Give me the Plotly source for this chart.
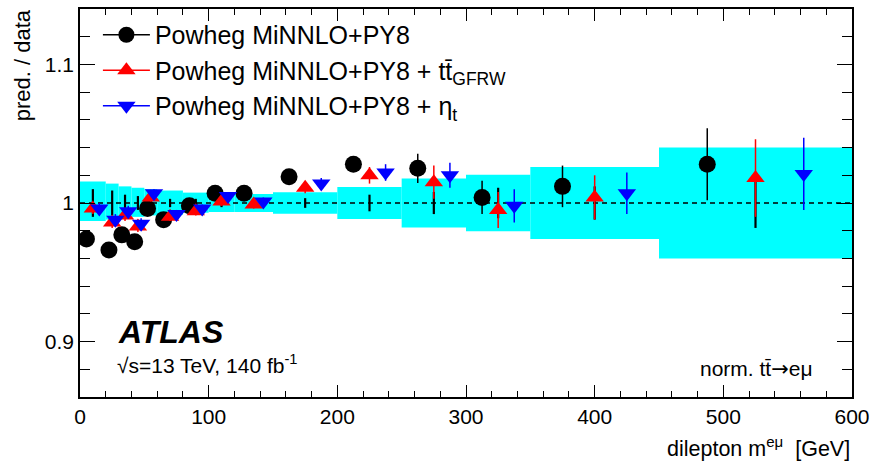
import plotly.graph_objects as go

# ---------------- data ----------------
bin_edges = [0, 20, 30, 40, 50, 60, 80, 100, 120, 150, 200, 250, 300, 350, 450, 600]

# Powheg MiNNLO+PY8 (black circles)
powheg = [0.974, 0.966, 0.977, 0.972, 0.996, 0.988, 0.998, 1.007, 1.007, 1.019, 1.028, 1.025, 1.004, 1.012, 1.028]
powheg_err = [0.004, 0.004, 0.004, 0.004, 0.003, 0.003, 0.003, 0.003, 0.003, 0.004, 0.005, 0.0105, 0.012, 0.015, 0.026]

# Powheg MiNNLO+PY8 + ttbar_GFRW (red up triangles)
gfrw = [0.996, 0.986, 0.991, 0.983, 1.004, 0.990, 0.994, 1.001, 0.999, 1.011, 1.020, 1.015, 0.995, 1.004, 1.018]
gfrw_err = [0.004, 0.004, 0.004, 0.004, 0.003, 0.003, 0.003, 0.003, 0.003, 0.004, 0.006, 0.012, 0.013, 0.016, 0.028]

# Powheg MiNNLO+PY8 + eta_t (blue down triangles)
eta = [0.996, 0.988, 0.994, 0.985, 1.007, 0.992, 0.996, 1.005, 1.001, 1.014, 1.022, 1.020, 0.998, 1.007, 1.021]
eta_err = [0.004, 0.004, 0.004, 0.004, 0.003, 0.003, 0.003, 0.003, 0.003, 0.004, 0.006, 0.009, 0.012, 0.015, 0.026]

# data (ratio = 1) with statistical uncertainty
data_ratio = [1.0] * 15
data_stat = [0.010, 0.009, 0.006, 0.005, 0.004, 0.003, 0.003, 0.003, 0.003, 0.0035, 0.006, 0.008, 0.011, 0.012, 0.018]

# total uncertainty band
unc_up = [0.0155, 0.014, 0.012, 0.011, 0.010, 0.009, 0.0075, 0.007, 0.0065, 0.0078, 0.0115, 0.0177, 0.0204, 0.026, 0.040]
unc_down = [0.013, 0.012, 0.011, 0.010, 0.009, 0.0085, 0.007, 0.0065, 0.0065, 0.0078, 0.0115, 0.0177, 0.0204, 0.026, 0.040]

y_tick_vals = [0.9, 1.0, 1.1]
y_tick_text = ["0.9", "1", "1.1"]
x_tick_vals = [0, 100, 200, 300, 400, 500, 600]
x_tick_text = ["0", "100", "200", "300", "400", "500", "600"]

series_names = [
    "Powheg MiNNLO+PY8",
    "Powheg MiNNLO+PY8 + tt\u0304<sub>GFRW</sub>",
    "Powheg MiNNLO+PY8 + \u03b7<sub>t</sub>",
]

# ---------------- derived positions ----------------
lo = bin_edges[:-1]
hi = bin_edges[1:]
widths = [h - l for l, h in zip(lo, hi)]
centers = [(l + h) / 2 for l, h in zip(lo, hi)]
x_black = [l + 0.25 * w for l, w in zip(lo, widths)]
x_red = [l + 0.50 * w for l, w in zip(lo, widths)]
x_blue = [l + 0.75 * w for l, w in zip(lo, widths)]

FONT = "Liberation Sans, Arial, Helvetica, sans-serif"

fig = go.Figure()

# uncertainty band
fig.add_trace(go.Bar(
    x=centers, y=[u + d for u, d in zip(unc_up, unc_down)],
    base=[1 - d for d in unc_down], width=widths,
    marker=dict(color="#00FFFF", line=dict(width=0)),
    showlegend=False, hoverinfo="skip",
))

# dashed unity line
fig.add_trace(go.Scatter(
    x=[bin_edges[0], bin_edges[-1]], y=[1, 1], mode="lines",
    line=dict(color="black", width=1.3, dash="5px,4px"),
    showlegend=False, hoverinfo="skip",
))

# data stat errors
fig.add_trace(go.Scatter(
    x=centers, y=data_ratio, mode="markers",
    marker=dict(size=1, color="black"),
    error_y=dict(type="data", array=data_stat, color="black", thickness=2.2, width=0),
    showlegend=False,
))

styles = [
    (x_black, powheg, powheg_err, "black", "circle", 17),
    (x_red, gfrw, gfrw_err, "#FF0000", "triangle-up", 16),
    (x_blue, eta, eta_err, "#0000FF", "triangle-down", 16),
]
for (xs, ys, es, col, sym, sz), name in zip(styles, series_names):
    fig.add_trace(go.Scatter(
        x=xs, y=ys, mode="markers",
        marker=dict(color=col, symbol=sym, size=sz, line=dict(width=0)),
        error_y=dict(type="data", array=es, color=col, thickness=1.5, width=0),
        showlegend=False, name=name,
    ))
# legend entries (marker with line, as in the original)
for (xs, ys, es, col, sym, sz), name in zip(styles, series_names):
    fig.add_trace(go.Scatter(
        x=[None], y=[None], mode="lines+markers",
        marker=dict(color=col, symbol=sym, size=sz, line=dict(width=0)),
        line=dict(color=col, width=1.5),
        name=name, showlegend=True,
    ))

axis_common = dict(
    showline=True, linecolor="black", linewidth=1.5, mirror="allticks",
    ticks="inside", tickcolor="black", tickwidth=1.3,
    showgrid=False, zeroline=False,
    tickfont=dict(family=FONT, size=21, color="black"),
)

fig.update_xaxes(
    range=[0, 600], tickmode="array", tickvals=x_tick_vals, ticktext=x_tick_text,
    ticklen=12,
    minor=dict(tickmode="linear", tick0=0, dtick=20, ticks="inside", ticklen=6, tickwidth=1.3, tickcolor="black"),
    **axis_common,
)
fig.update_yaxes(
    range=[0.86, 1.14], tickmode="array", tickvals=y_tick_vals, ticktext=y_tick_text,
    ticklen=15,
    minor=dict(tickmode="linear", tick0=0, dtick=0.02, ticks="inside", ticklen=10, tickwidth=1.3, tickcolor="black"),
    **axis_common,
)

W, H = 877, 465
ML, MR, MT, MB = 80, 21, 7, 68
PW, PH = W - ML - MR, H - MT - MB


def px(xp):
    return (xp - ML) / PW


def py(yp):
    return 1 - (yp - MT) / PH


annotations = [
    dict(text="pred. / data", x=px(22), y=py(5), xanchor="center", yanchor="top",
         textangle=-90, font=dict(family=FONT, size=22, color="black")),
    dict(text="dilepton m<sup>e\u03bc</sup>  [GeV]", x=px(856), y=py(463), xanchor="right", yanchor="bottom",
         font=dict(family=FONT, size=21.5, color="black")),
    dict(text="<b><i>ATLAS</i></b>", x=px(116), y=py(332), xanchor="left", yanchor="middle",
         font=dict(family=FONT, size=32, color="black")),
    dict(text="\u221as=13 TeV, 140 fb<sup>-1</sup>", x=px(115), y=py(364), xanchor="left", yanchor="middle",
         font=dict(family=FONT, size=21, color="black")),
    dict(text="norm. tt\u0304<span style='font-family:DejaVu Sans'>\u2192</span>e\u03bc",
         x=px(819), y=py(369), xanchor="right", yanchor="middle",
         font=dict(family=FONT, size=21, color="black")),
]
for a in annotations:
    a.update(xref="paper", yref="paper", showarrow=False)

fig.update_layout(
    width=W, height=H,
    margin=dict(l=ML, r=MR, t=MT, b=MB, pad=0),
    paper_bgcolor="white", plot_bgcolor="white",
    font=dict(family=FONT, color="black"),
    annotations=annotations,
    legend=dict(
        x=px(98), y=py(10), xanchor="left", yanchor="top",
        bgcolor="rgba(0,0,0,0)", borderwidth=0,
        font=dict(family=FONT, size=25, color="black"),
        itemwidth=47, itemsizing="trace",
    ),
    showlegend=True,
)

fig.write_html("out.html", config={"displayModeBar": False},
               post_script="document.body.style.margin='0';")
